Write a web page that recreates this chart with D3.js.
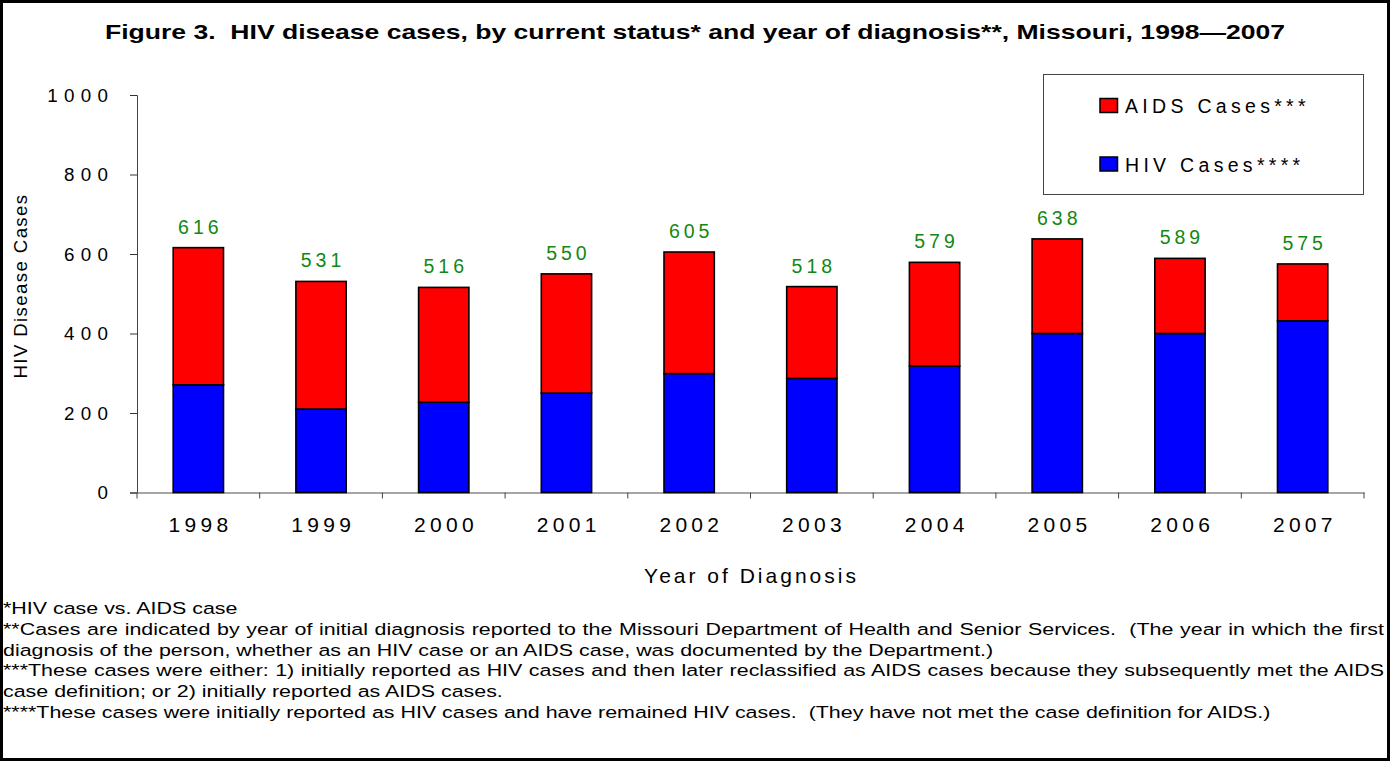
<!DOCTYPE html>
<html lang="en">
<head>
  <meta charset="UTF-8">
  <title>Figure 3. HIV disease cases</title>
  <style>
    body { margin: 0; background: #fff; overflow: hidden; }
    svg { font-family: "Liberation Sans", Arial, sans-serif; display: block; }
    .ytick text { font-size: 18.8px; letter-spacing: 6.3px; fill: #000; }
    .xtick text { font-size: 21px; letter-spacing: 4.3px; fill: #000; }
    .foot text { font-size: 17px; white-space: pre; }
  </style>
</head>
<body>
  <svg width="1390" height="761"></svg>

  <script src="https://d3js.org/d3.v7.min.js"></script>
  <script>
    // values
    var years = ["1998", "1999", "2000", "2001", "2002", "2003", "2004", "2005", "2006", "2007"];
    var hivCases = [271, 210, 227, 250, 299, 287, 318, 400, 400, 432];
    var aidsCases = [345, 321, 289, 300, 306, 231, 261, 238, 189, 143];
    var totals = [616, 531, 516, 550, 605, 518, 579, 638, 589, 575];
    var yTicks = [0, 200, 400, 600, 800, 1000];
    var seriesNames = ["AIDS Cases***", "HIV Cases****"];
    var seriesColors = ["#ff0000", "#0000ff"];
    var footnotes = [
      "*HIV case vs. AIDS case",
      "**Cases are indicated by year of initial diagnosis reported to the Missouri Department of Health and Senior Services.  (The year in which the first",
      "diagnosis of the person, whether as an HIV case or an AIDS case, was documented by the Department.)",
      "***These cases were either: 1) initially reported as HIV cases and then later reclassified as AIDS cases because they subsequently met the AIDS",
      "case definition; or 2) initially reported as AIDS cases.",
      "****These cases were initially reported as HIV cases and have remained HIV cases.  (They have not met the case definition for AIDS.)"
    ];
    var justified = [false, true, false, true, false, false];

    var svg = d3.select("svg");

    var rows = years.map(function(y, i) {
      return { year: y, hiv: hivCases[i], aids: aidsCases[i], total: totals[i] };
    });

    var x = d3.scaleBand()
      .domain(years)
      .range([137, 1364])
      .paddingInner(0.59)
      .paddingOuter(0.295);

    var y = d3.scaleLinear()
      .domain([0, 1000])
      .range([492.5, 95]);

    // outer frame
    svg.append("rect")
      .attr("x", 1.5).attr("y", 1.5)
      .attr("width", 1387).attr("height", 758)
      .attr("fill", "none")
      .attr("stroke", "#000")
      .attr("stroke-width", 3);

    svg.append("text")
      .attr("x", 105).attr("y", 39)
      .attr("textLength", 1180)
      .attr("lengthAdjust", "spacingAndGlyphs")
      .style("font-size", "21px")
      .style("font-weight", "bold")
      .style("white-space", "pre")
      .text("Figure 3.  HIV disease cases, by current status* and year of diagnosis**, Missouri, 1998\u20142007");

    // axes
    var yAxis = svg.append("g")
      .attr("class", "ytick")
      .attr("transform", "translate(137,0)")
      .call(d3.axisLeft(y).tickValues(yTicks).tickFormat(d3.format("d")).tickSize(7));
    yAxis.select(".domain").attr("stroke", "#444");
    yAxis.selectAll(".tick line").attr("stroke", "#333");
    yAxis.selectAll(".tick text").attr("x", -22.7);

    var xAxis = svg.append("g")
      .attr("class", "xtick")
      .attr("transform", "translate(0," + y(0) + ")")
      .call(d3.axisBottom(x).tickSize(0));
    xAxis.select(".domain").attr("stroke", "#888").attr("stroke-width", 1.5);
    xAxis.selectAll(".tick text").attr("x", 2.2).attr("y", 39.5).attr("dy", null);

    // category separators (ticks between bands)
    var edges = years.map(function(d) { return x(d) - x.step() * x.paddingInner() / 2; });
    edges.push(x.range()[1]);
    svg.append("g")
      .selectAll("line")
      .data(edges)
      .join("line")
      .attr("x1", function(d) { return d; })
      .attr("x2", function(d) { return d; })
      .attr("y1", y(0))
      .attr("y2", y(0) + 6)
      .attr("stroke", "#444");

    // stacked bars
    var bars = svg.append("g").selectAll("g")
      .data(rows)
      .join("g");

    bars.append("rect")
      .attr("x", function(d) { return x(d.year); })
      .attr("width", x.bandwidth())
      .attr("y", function(d) { return y(d.hiv); })
      .attr("height", function(d) { return y(0) - y(d.hiv); })
      .attr("fill", seriesColors[1])
      .attr("stroke", "#000")
      .attr("stroke-width", 1.6);

    bars.append("rect")
      .attr("x", function(d) { return x(d.year); })
      .attr("width", x.bandwidth())
      .attr("y", function(d) { return y(d.hiv + d.aids); })
      .attr("height", function(d) { return y(d.hiv) - y(d.hiv + d.aids); })
      .attr("fill", seriesColors[0])
      .attr("stroke", "#000")
      .attr("stroke-width", 1.6);

    bars.append("text")
      .attr("x", function(d) { return x(d.year) + x.bandwidth() / 2 + 2; })
      .attr("y", function(d) { return y(d.total) - 14; })
      .attr("text-anchor", "middle")
      .attr("fill", "#118811")
      .style("font-size", "19.5px")
      .style("letter-spacing", "4px")
      .text(function(d) { return d.total; });

    // axis titles
    svg.append("text")
      .attr("transform", "translate(27,286) rotate(-90)")
      .attr("text-anchor", "middle")
      .style("font-size", "18.6px")
      .style("letter-spacing", "1.4px")
      .text("HIV Disease Cases");

    svg.append("text")
      .attr("x", 751.5).attr("y", 582.7)
      .attr("text-anchor", "middle")
      .style("font-size", "21px")
      .style("letter-spacing", "3px")
      .text("Year of Diagnosis");

    // legend
    var legend = svg.append("g");
    legend.append("rect")
      .attr("x", 1043.5).attr("y", 74.5)
      .attr("width", 320).attr("height", 120)
      .attr("fill", "#fff")
      .attr("stroke", "#444")
      .attr("stroke-width", 1);

    var items = legend.selectAll("g")
      .data(seriesNames)
      .join("g")
      .attr("transform", function(d, i) { return "translate(1100," + (98.5 + i * 58.5) + ")"; });
    items.append("rect")
      .attr("width", 17.5).attr("height", 14)
      .attr("fill", function(d, i) { return seriesColors[i]; })
      .attr("stroke", "#000")
      .attr("stroke-width", 1.5);
    items.append("text")
      .attr("x", 25).attr("y", 14.5)
      .style("font-size", "19.5px")
      .style("letter-spacing", "4.3px")
      .text(function(d) { return d; });

    // footnotes (wide face: stretched horizontally, justified lines fill the width)
    var sx = 1.26;
    var right = 1384;
    var notes = svg.append("g")
      .attr("class", "foot")
      .selectAll("g")
      .data(footnotes)
      .join("g")
      .attr("transform", function(d, i) { return "translate(3," + (614.3 + i * 20.7) + ") scale(" + sx + ",1)"; });
    notes.append("text")
      .text(function(d) { return d; })
      .each(function(d, i) {
        if (!justified[i]) return;
        var len = this.getComputedTextLength();
        var gaps = d.split(" ").length - 1;
        var extra = ((right - 3) / sx - len) / gaps;
        d3.select(this).style("word-spacing", extra + "px");
      });
  </script>
</body>
</html>
